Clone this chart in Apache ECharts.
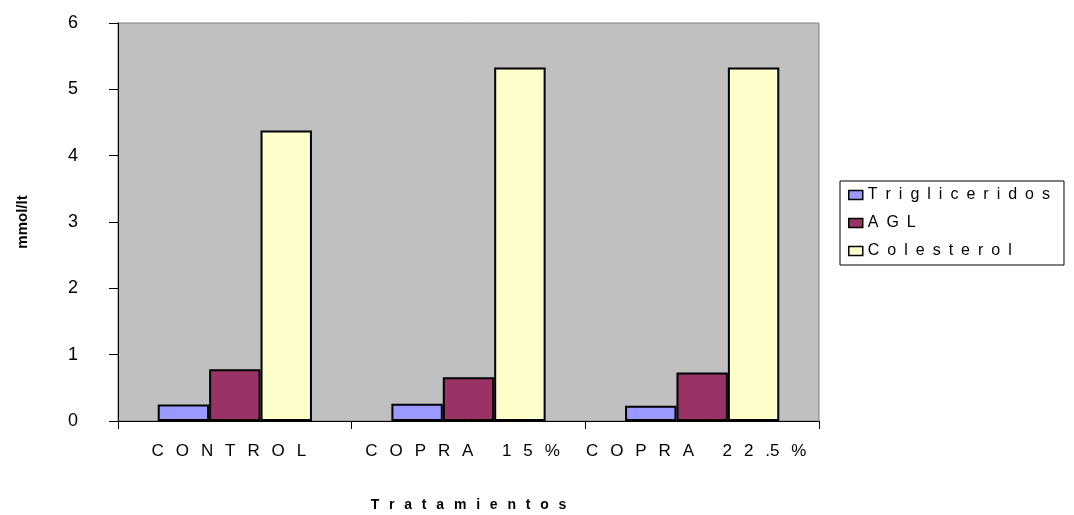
<!DOCTYPE html>
<html>
<head>
<meta charset="utf-8">
<script src="https://cdn.jsdelivr.net/npm/echarts@6/dist/echarts.min.js"></script>
<style>html,body{margin:0;padding:0;background:#fff}#c{width:1074px;height:515px}</style>
</head>
<body>
<div id="c"></div>
<script>
const categories = ['CONTROL', 'COPRA 15%', 'COPRA 22.5%'];
const trigliceridos = [0.25, 0.26, 0.23];
const agl = [0.78, 0.66, 0.73];
const colesterol = [4.38, 5.33, 5.33];
const yTicks = [0, 1, 2, 3, 4, 5, 6];

// wide letter spacing, as in the original chart (tight after a decimal point)
const SEP = '\u2002\u2009';
const wide = s => {
  let out = '';
  for (let i = 0; i < s.length; i++) {
    out += s[i];
    if (s[i] !== '.') out += SEP;
  }
  return out;
};
const legendSpaced = s => s.split('').join('\u2002');
const font = '"Liberation Sans", Arial, sans-serif';

const chart = echarts.init(document.getElementById('c'));
chart.setOption({
  animation: false,
  textStyle: { fontFamily: font },
  grid: {
    left: 118, top: 23, right: 255, bottom: 94,
    outerBoundsMode: 'none', containLabel: false,
    show: true, backgroundColor: '#c0c0c0', borderColor: '#808080', borderWidth: 1
  },
  legend: {
    orient: 'vertical', left: 840, top: 181,
    borderColor: '#000', borderWidth: 1, padding: [6, 14, 6, 8],
    itemWidth: 14, itemHeight: 9, itemGap: 12,
    icon: 'rect',
    textStyle: { fontSize: 16, color: '#000', fontFamily: font },
    formatter: n => legendSpaced(n),
    itemStyle: { borderColor: '#000', borderWidth: 1.5 }
  },
  xAxis: {
    type: 'category', data: categories,
    name: legendSpaced('Tratamientos').replace(/\u2002/g, SEP), nameLocation: 'middle', nameGap: 77,
    nameTextStyle: { fontSize: 14, fontWeight: 'bold', color: '#000' },
    axisLine: { lineStyle: { color: '#000', width: 1 } },
    axisTick: { show: true, length: 8, lineStyle: { color: '#000' } },
    axisLabel: { fontSize: 17, color: '#000', margin: 22, interval: 0, formatter: v => wide(v) }
  },
  yAxis: {
    type: 'value', min: yTicks[0], max: yTicks[yTicks.length - 1], interval: 1,
    name: 'mmol/lt', nameLocation: 'middle', nameGap: 88, nameRotate: 90,
    nameTextStyle: { fontSize: 15, fontWeight: 'bold', color: '#000' },
    axisLine: { show: true, lineStyle: { color: '#000', width: 1 } },
    axisTick: { show: true, length: 9, lineStyle: { color: '#000' } },
    splitLine: { show: false },
    axisLabel: { fontSize: 18, color: '#000', margin: 40 }
  },
  series: [
    { name: 'Trigliceridos', type: 'bar', data: trigliceridos, barGap: '0%', barCategoryGap: '34%',
      itemStyle: { color: '#9999ff', borderColor: '#000', borderWidth: 2 } },
    { name: 'AGL', type: 'bar', data: agl,
      itemStyle: { color: '#993366', borderColor: '#000', borderWidth: 2 } },
    { name: 'Colesterol', type: 'bar', data: colesterol,
      itemStyle: { color: '#ffffcc', borderColor: '#000', borderWidth: 2 } }
  ]
});
</script>
</body>
</html>
